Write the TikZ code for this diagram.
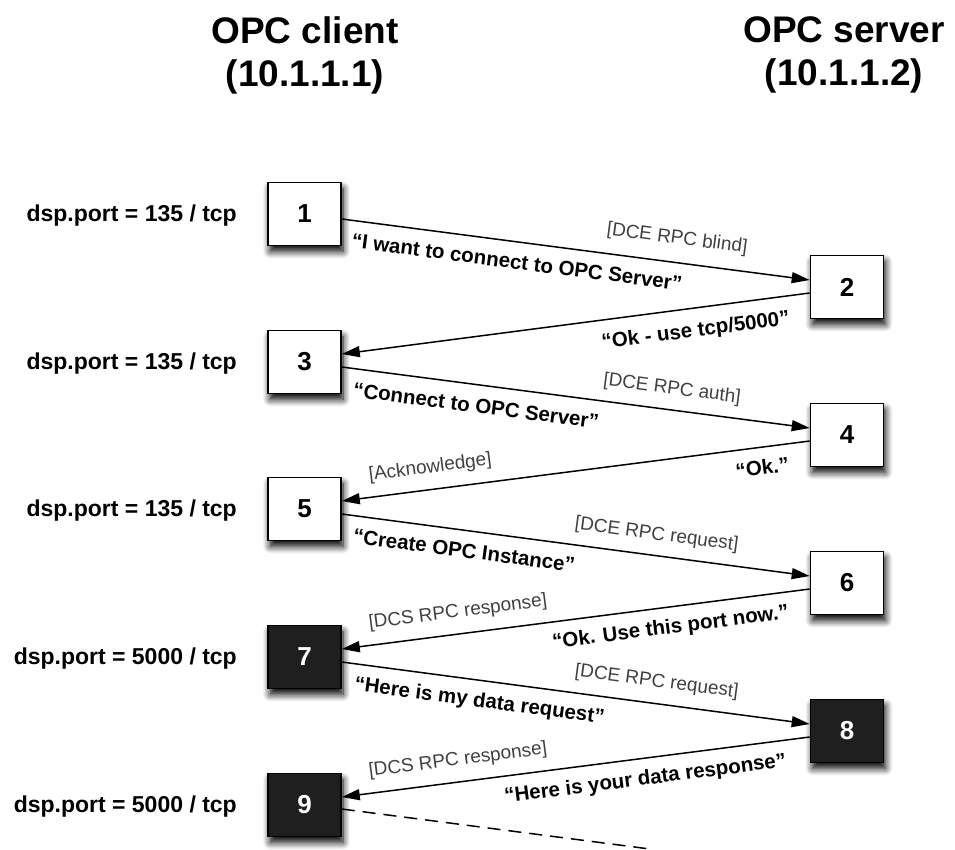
\documentclass[tikz,border=0pt]{standalone}
\usepackage{fontspec}
\setmainfont{Liberation Sans}
\usetikzlibrary{arrows.meta,calc,shadows.blur}

\begin{document}
\begin{tikzpicture}[x=1pt,y=-1pt,
  title/.style={font=\fontsize{37}{43}\selectfont\bfseries, align=center, inner sep=0pt, anchor=north},
  portlbl/.style={font=\fontsize{23}{26}\selectfont\bfseries, anchor=base east, inner sep=0pt},
  msgbox/.style={draw=black, line width=1.6pt, minimum width=73pt, minimum height=63pt,
    fill=white, inner sep=0pt, font=\fontsize{26}{30}\selectfont\bfseries,
    blur shadow={shadow xshift=2pt, shadow yshift=-6pt, shadow blur radius=7pt,
      shadow blur steps=8, shadow opacity=100}},
  darkbox/.style={msgbox, fill=black!88, text=white},
  msg/.style={line width=1.5pt, -{Triangle[length=18pt,width=11pt]}},
  say/.style={font=\fontsize{20.5}{24}\selectfont\bfseries, sloped, inner sep=0pt},
  tag/.style={font=\fontsize{19}{22}\selectfont, text=black!75, sloped, inner sep=0pt},
]
\useasboundingbox (0,0) rectangle (955,849);

% column headings
\node[title] (client) at (305,16) {OPC client\\(10.1.1.1)};
\node[title] (server) at (844,16) {OPC server\\(10.1.1.2)};

% client side steps
\node[msgbox]  (b1) at (304.5,214) {1};
\node[msgbox]  (b3) at (304.5,362) {3};
\node[msgbox]  (b5) at (304.5,509) {5};
\node[darkbox] (b7) at (304.5,657) {7};
\node[darkbox] (b9) at (304.5,805) {9};

% server side steps
\node[msgbox]  (b2) at (847,287) {2};
\node[msgbox]  (b4) at (847,435) {4};
\node[msgbox]  (b6) at (847,583) {6};
\node[darkbox] (b8) at (847,731) {8};

% port annotations
\node[portlbl] (p1) at (237,221) {dsp.port = 135 / tcp};
\node[portlbl] (p3) at (237,369) {dsp.port = 135 / tcp};
\node[portlbl] (p5) at (237,516) {dsp.port = 135 / tcp};
\node[portlbl] (p7) at (237,664) {dsp.port = 5000 / tcp};
\node[portlbl] (p9) at (237,812) {dsp.port = 5000 / tcp};

% messages
\draw[msg] ($(b1.east)+(0,5)$) -- ($(b2.west)+(0,-7)$)
  node[tag, pos=0.71, above=14pt] (t12) {[DCE RPC blind]}
  node[say, pos=0.38, below=12pt] (s12) {“I want to connect to OPC Server”};
\draw[msg] ($(b2.west)+(0,6)$) -- ($(b3.east)+(0,-8)$)
  node[say, pos=0.25, below=13pt] (s23) {“Ok - use tcp/5000”};
\draw[msg] ($(b3.east)+(0,5)$) -- ($(b4.west)+(0,-7)$)
  node[tag, pos=0.70, above=11pt] (t34) {[DCE RPC auth]}
  node[say, pos=0.293, below=13pt] (s34) {“Connect to OPC Server”};
\draw[msg] ($(b4.west)+(0,6)$) -- ($(b5.east)+(0,-8)$)
  node[tag, pos=0.805, above=12pt] (t45) {[Acknowledge]}
  node[say, pos=0.107, below=12pt] (s45) {“Ok.”};
\draw[msg] ($(b5.east)+(0,5)$) -- ($(b6.west)+(0,-7)$)
  node[tag, pos=0.667, above=11pt] (t56) {[DCE RPC request]}
  node[say, pos=0.267, below=12pt] (s56) {“Create OPC Instance”};
\draw[msg] ($(b6.west)+(0,6)$) -- ($(b7.east)+(0,-8)$)
  node[tag, pos=0.746, above=12pt] (t67) {[DCS RPC response]}
  node[say, pos=0.303, below=11pt] (s67) {“Ok. Use this port now.”};
\draw[msg] ($(b7.east)+(0,5)$) -- ($(b8.west)+(0,-7)$)
  node[tag, pos=0.667, above=12pt] (t78) {[DCE RPC request]}
  node[say, pos=0.30, below=11pt] (s78) {“Here is my data request”};
\draw[msg] ($(b8.west)+(0,6)$) -- ($(b9.east)+(0,-8)$)
  node[tag, pos=0.746, above=12pt] (t89) {[DCS RPC response]}
  node[say, pos=0.357, below=11pt] (s89) {“Here is your data response”};

% continuation
\coordinate (tail) at (650,849);
\draw[line width=1.5pt, dash pattern=on 13pt off 8pt] ($(b9.east)+(0,4)$) -- (tail);
\end{tikzpicture}
\end{document}
